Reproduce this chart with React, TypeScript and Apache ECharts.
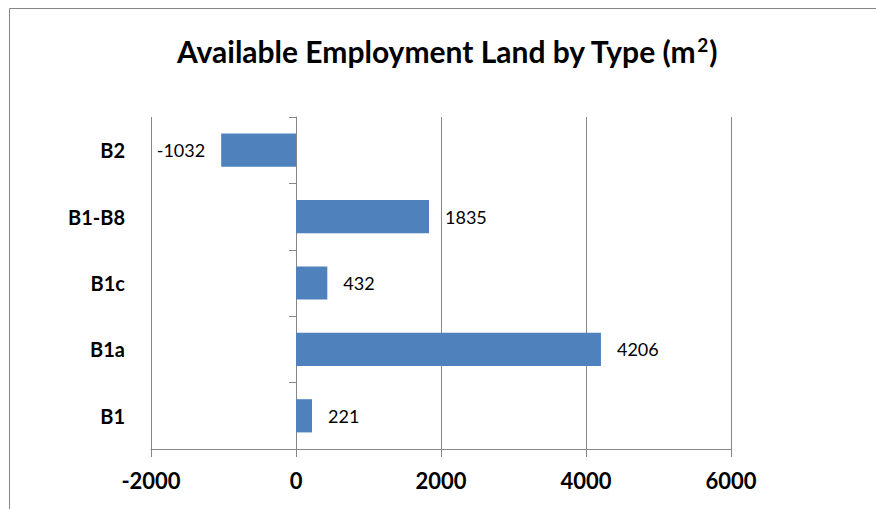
import React, { useEffect, useRef } from "react";
import * as echarts from "echarts";

const categories = ["B1", "B1a", "B1c", "B1-B8", "B2"];
const values = [221, 4206, 432, 1835, -1032];
const xTicks = [-2000, 0, 2000, 4000, 6000];

const FONT = "Lato, 'Open Sans', sans-serif";
const GRAY = "#868686";

export default function App() {
  const ref = useRef<HTMLDivElement>(null);
  useEffect(() => {
    const chart = echarts.init(ref.current!, null, { renderer: "svg" });
    chart.setOption({
      animation: false,
      backgroundColor: "#ffffff",
      title: {
        text: "{t|Available Employment Land by Type (m}{s|2}{t|)}",
        left: 172,
        top: 30,
        textStyle: {
          rich: {
            t: { fontFamily: FONT, fontWeight: "bold", fontSize: 30, color: "#000" },
            s: { fontFamily: FONT, fontWeight: "bold", fontSize: 19, color: "#000", verticalAlign: "top", padding: [0, 1, 12, 0] },
          },
        },
      },
      graphic: [
        {
          type: "rect",
          shape: { x: 9.5, y: 8.5, width: 900, height: 520 },
          style: { fill: "none", stroke: GRAY, lineWidth: 1 },
          silent: true,
        },
      ],
      grid: { left: 151, right: 145, top: 117, bottom: 60 },
      xAxis: {
        type: "value",
        min: xTicks[0],
        max: xTicks[xTicks.length - 1],
        interval: 2000,
        axisLine: { show: true, lineStyle: { color: GRAY, width: 1 } },
        axisTick: { show: true, length: 8, lineStyle: { color: GRAY } },
        splitLine: { show: true, lineStyle: { color: GRAY, width: 1 } },
        axisLabel: {
          fontFamily: FONT,
          fontWeight: "bold",
          fontSize: 22,
          color: "#000",
          margin: 20,
          formatter: (v: number) => String(v),
        },
      },
      yAxis: [
        {
          type: "category",
          data: categories,
          axisLine: { show: false, onZero: false },
          axisTick: { show: false },
          axisLabel: { fontFamily: FONT, fontWeight: "bold", fontSize: 20, color: "#000", margin: 26 },
        },
        {
          type: "category",
          data: categories,
          position: "left",
          axisLine: { show: true, onZero: true, lineStyle: { color: GRAY, width: 1 } },
          axisTick: { show: true, length: 7, lineStyle: { color: GRAY } },
          axisLabel: { show: false },
        },
      ],
      series: [
        {
          type: "bar",
          yAxisIndex: 0,
          barCategoryGap: "50%",
          itemStyle: { color: "#4F81BD" },
          data: values.map((v) => ({
            value: v,
            label: { position: v < 0 ? "left" : "right" },
          })),
          label: {
            show: true,
            distance: 16,
            fontFamily: FONT,
            fontSize: 18,
            color: "#000",
          },
        },
      ],
    });
    return () => chart.dispose();
  }, []);
  return (
    <div
      ref={ref}
      style={{ position: "fixed", left: 0, top: 0, width: 876, height: 509 }}
    />
  );
}
